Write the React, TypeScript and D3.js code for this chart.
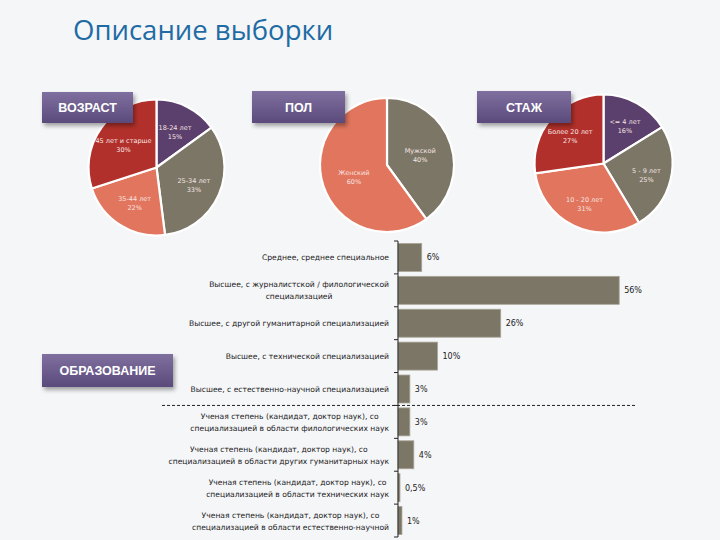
import React, { useEffect, useRef } from "react";
import * as d3 from "d3";

const titleText = "Описание выборки";

const ageLabels = ["18-24 лет", "25-34 лет", "35-44 лет", "45 лет и старше"];
const ageValues = [15, 33, 22, 30];
const sexLabels = ["Мужской", "Женский"];
const sexValues = [40, 60];
const expLabels = ["<= 4 лет", "5 - 9 лет", "10 - 20 лет", "Более 20 лет"];
const expValues = [16, 25, 31, 27];

const eduLabels: string[][] = [
  ["Среднее, среднее специальное"],
  ["Высшее, с журналистской / филологической", "специализацией"],
  ["Высшее, с другой гуманитарной специализацией"],
  ["Высшее, с технической специализацией"],
  ["Высшее, с естественно-научной специализацией"],
  ["Ученая степень (кандидат, доктор наук), со", "специализацией в области филологических наук"],
  ["Ученая степень (кандидат, доктор наук), со", "специализацией в области других гуманитарных наук"],
  ["Ученая степень (кандидат, доктор наук), со", "специализацией в области технических наук"],
  ["Ученая степень (кандидат, доктор наук), со", "специализацией в области естественно-научной"],
];
const eduValues = [6, 56, 26, 10, 3, 3, 4, 0.5, 1];
const eduValueLabels = ["6%", "56%", "26%", "10%", "3%", "3%", "4%", "0,5%", "1%"];

const PURPLE = "#5b3f6c";
const GRAY = "#7b7666";
const SALMON = "#e2755d";
const RED = "#b2302b";

export default function App() {
  const ref = useRef<SVGSVGElement>(null);

  useEffect(() => {
    const svg = d3.select(ref.current);
    svg.selectAll("*").remove();

    const defs = svg.append("defs");
    const grad = defs.append("linearGradient").attr("id", "boxGrad").attr("x1", 0).attr("y1", 0).attr("x2", 0).attr("y2", 1);
    grad.append("stop").attr("offset", "0%").attr("stop-color", "#8070a0");
    grad.append("stop").attr("offset", "100%").attr("stop-color", "#5a4a7b");
    const f = defs.append("filter").attr("id", "shadow").attr("x", "-20%").attr("y", "-20%").attr("width", "150%").attr("height", "160%");
    f.append("feDropShadow").attr("dx", 2).attr("dy", 3).attr("stdDeviation", 2).attr("flood-color", "#000").attr("flood-opacity", 0.35);

    svg.append("rect").attr("width", 720).attr("height", 540).attr("fill", "#f5f6f8");

    svg.append("text").attr("x", 73).attr("y", 40)
      .attr("font-family", "'Open Sans', sans-serif").attr("font-size", 27.5)
      .attr("fill", "#1f6ca5").text(titleText);

    // Pies
    const drawPie = (cx: number, cy: number, r: number, labels: string[], values: number[], colors: string[], lr: number) => {
      const g = svg.append("g").attr("transform", `translate(${cx},${cy})`);
      const pie = d3.pie<number>().sort(null).value((d) => d);
      const arcs = pie(values);
      const arc = d3.arc<d3.PieArcDatum<number>>().innerRadius(0).outerRadius(r);
      const larc = d3.arc<d3.PieArcDatum<number>>().innerRadius(r * lr).outerRadius(r * lr);
      g.selectAll("path").data(arcs).enter().append("path")
        .attr("d", arc as any).attr("fill", (_, i) => colors[i])
        .attr("stroke", "#ffffff").attr("stroke-width", 2.2).attr("stroke-linejoin", "round");
      arcs.forEach((a, i) => {
        const [x, y] = larc.centroid(a);
        const t = g.append("text").attr("text-anchor", "middle")
          .attr("font-family", "'DejaVu Sans', sans-serif").attr("font-size", 6.5)
          .attr("fill", "#f6e4e2");
        t.append("tspan").attr("x", x).attr("y", y - 1).text(labels[i]);
        t.append("tspan").attr("x", x).attr("y", y + 8).text(values[i] + "%");
      });
    };
    drawPie(156.5, 167.5, 68, ageLabels, ageValues, [PURPLE, GRAY, SALMON, RED], 0.6);
    drawPie(387, 165, 67, sexLabels, sexValues, [GRAY, SALMON], 0.52);
    drawPie(603.5, 163.5, 69, expLabels, expValues, [PURPLE, GRAY, SALMON, RED], 0.64);

    // Label boxes
    const boxes: [string, number, number, number, number][] = [
      ["ВОЗРАСТ", 42, 92, 91, 31],
      ["ПОЛ", 252, 91, 93, 32],
      ["СТАЖ", 477, 91, 94, 32],
      ["ОБРАЗОВАНИЕ", 42, 354, 131, 33],
    ];
    boxes.forEach(([t, x, y, w, h]) => {
      svg.append("rect").attr("x", x).attr("y", y).attr("width", w).attr("height", h)
        .attr("fill", "url(#boxGrad)").attr("filter", "url(#shadow)");
      svg.append("text").attr("x", x + w / 2).attr("y", y + h / 2 + 4.5)
        .attr("text-anchor", "middle").attr("font-family", "'Liberation Sans', Arial, sans-serif")
        .attr("font-weight", "bold").attr("font-size", 12.5).attr("fill", "#ffffff").text(t);
    });

    // Bar chart
    const x = d3.scaleLinear().domain([0, 60]).range([398, 635]);
    const y = d3.scaleBand<number>().domain(d3.range(eduValues.length)).range([241, 537]).paddingInner(0.15).paddingOuter(0.075);
    const step = y.step();
    const bg = svg.append("g");
    eduValues.forEach((v, i) => {
      bg.append("rect").attr("x", x(0)).attr("y", y(i)!).attr("width", Math.max(1.5, x(v) - x(0))).attr("height", y.bandwidth())
        .attr("fill", GRAY).attr("stroke", "#a8a496").attr("stroke-width", 0.8);
      bg.append("text").attr("x", x(v) + 5).attr("y", y(i)! + y.bandwidth() / 2 + 3)
        .attr("font-family", "'DejaVu Sans', sans-serif").attr("font-size", 8).attr("fill", "#222")
        .text(eduValueLabels[i]);
      const lines = eduLabels[i];
      const lh = 12;
      const cyb = y(i)! + y.bandwidth() / 2;
      const texts = lines.map((ln, k) =>
        bg.append("text").attr("y", cyb - ((lines.length - 1) * lh) / 2 + k * lh + 3)
          .attr("font-family", "'DejaVu Sans', sans-serif").attr("font-size", 7.6).attr("fill", "#222")
          .attr("text-anchor", "middle").text(ln)
      );
      const widths = texts.map((t) => (t.node() as SVGTextElement).getComputedTextLength());
      const maxW = Math.max(...widths);
      texts.forEach((t) => t.attr("x", 389 - maxW / 2));
    });
    // axis
    const y0 = y.range()[0];
    bg.append("line").attr("x1", x(0)).attr("x2", x(0)).attr("y1", y0).attr("y2", y0 + step * eduValues.length)
      .attr("stroke", "#222").attr("stroke-width", 1);
    d3.range(eduValues.length + 1).forEach((k) => {
      bg.append("line").attr("x1", x(0) - 4).attr("x2", x(0)).attr("y1", y0 + k * step).attr("y2", y0 + k * step)
        .attr("stroke", "#222").attr("stroke-width", 1);
    });
    // dashed separator
    bg.append("line").attr("x1", 162).attr("x2", 635).attr("y1", y0 + 5 * step).attr("y2", y0 + 5 * step)
      .attr("stroke", "#222").attr("stroke-width", 1).attr("stroke-dasharray", "3,2");
  }, []);

  return (
    <svg ref={ref} width={720} height={540} style={{ position: "absolute", left: 0, top: 0, display: "block" }} />
  );
}
